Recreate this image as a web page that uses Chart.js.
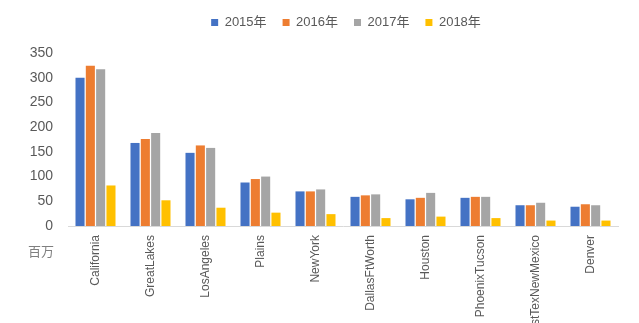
<!DOCTYPE html>
<html>
<head>
<meta charset="utf-8">
<script src="https://cdn.jsdelivr.net/npm/chart.js@4/dist/chart.umd.min.js"></script>
<style>
html,body{margin:0;padding:0;background:#fff;}
#wrap{width:639px;height:323px;position:relative;}
</style>
</head>
<body>
<div id="wrap"><canvas id="c" width="639" height="323"></canvas></div>
<script>
const categories = ["California","GreatLakes","LosAngeles","Plains","NewYork","DallasFtWorth","Houston","PhoenixTucson","WestTexNewMexico","Denver"];
const seriesNames = ["2015年","2016年","2017年","2018年"];
const values2015 = [300,168,148,88,70,59,54,57,42,39];
const values2016 = [324,176,163,95,70,62,57,59,42,44];
const values2017 = [317,188,158,100,74,64,67,59,47,42];
const values2018 = [82,52,37,27,24,16,19,16,11,11];
const yTicks = [0,50,100,150,200,250,300,350];
const unitLabel = "百万";

const colors = ["#4472C4","#ED7D31","#A5A5A5","#FFC000"];
const FONT = "'Liberation Sans', Arial, 'Noto Sans CJK SC', sans-serif";

const layoutPlugin = {
  id: 'layoutFix',
  beforeUpdate(chart){
    const lg = chart.legend;
    if (lg && !lg._patched){
      const f = lg.fit;
      lg.fit = function(){ f.call(this); this.height = 53; };
      lg._patched = true;
    }
  },
  afterLayout(chart){
    const lg = chart.legend;
    if (lg){
      lg.left += 37; lg.right += 37;
      lg.top = 0; lg.bottom = lg.top + lg.height;
    }
  },
  afterDraw(chart){
    const ctx = chart.ctx;
    ctx.save();
    ctx.font = "13px 'Noto Sans CJK SC', sans-serif";
    ctx.fillStyle = "#7f7f7f";
    ctx.textAlign = "left";
    ctx.textBaseline = "middle";
    ctx.fillText(unitLabel, 28, 251);
    ctx.restore();
  }
};

new Chart(document.getElementById('c'), {
  type: 'bar',
  data: {
    labels: categories,
    datasets: [values2015, values2016, values2017, values2018].map((d, i) => ({
      label: seriesNames[i],
      data: d,
      backgroundColor: colors[i],
      borderWidth: 0,
      barPercentage: 0.88,
      categoryPercentage: 0.75
    }))
  },
  options: {
    responsive: false,
    animation: false,
    devicePixelRatio: 1,
    layout: { padding: { left: 0, right: 21, top: 0, bottom: 0 } },
    plugins: {
      legend: {
        position: 'top',
        align: 'center',
        labels: {
          boxWidth: 7, boxHeight: 7,
          padding: 16,
          color: '#595959',
          font: { family: FONT, size: 13 }
        }
      },
      tooltip: { enabled: false }
    },
    scales: {
      x: {
        grid: { display: false, drawTicks: false },
        border: { display: true, color: '#d9d9d9', width: 1 },
        ticks: {
          autoSkip: false,
          minRotation: 90, maxRotation: 90,
          padding: 9,
          color: '#595959',
          font: { family: FONT, size: 12 }
        },
        afterFit(scale){ scale.height = 97; }
      },
      y: {
        min: 0, max: 350,
        grid: { display: false, drawTicks: false },
        border: { display: false },
        afterBuildTicks(scale){ scale.ticks = yTicks.map(v => ({ value: v })); },
        ticks: {
          padding: 15,
          color: '#595959',
          font: { family: FONT, size: 14 }
        },
        afterFit(scale){ scale.width = 68; }
      }
    }
  },
  plugins: [layoutPlugin]
});
</script>
</body>
</html>
